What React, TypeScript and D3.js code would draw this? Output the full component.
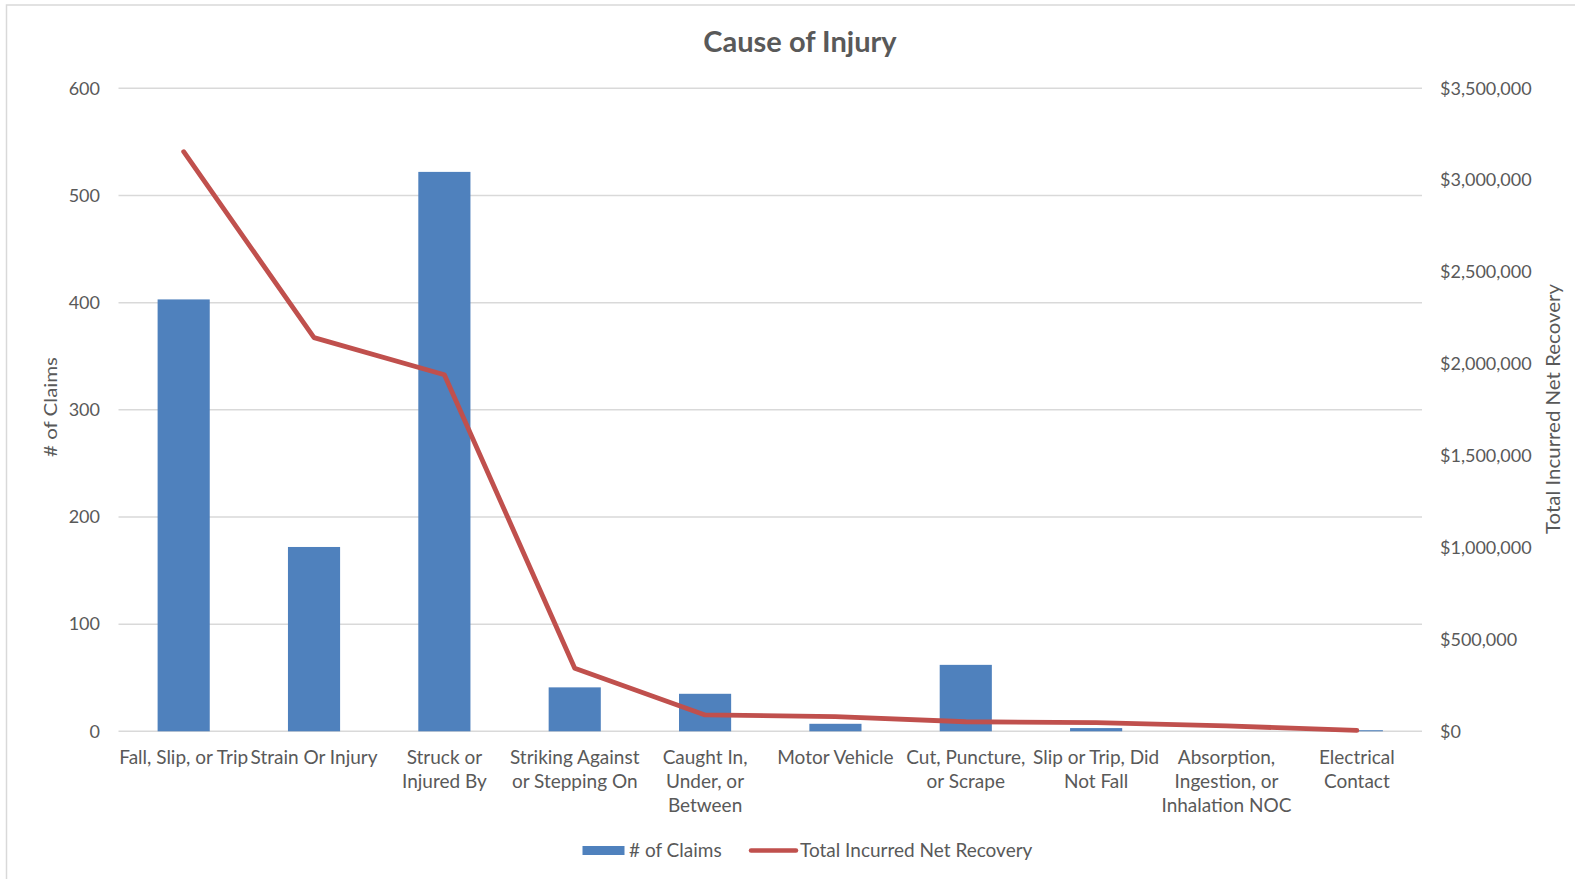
import React from "react";
import * as d3 from "d3";

const categories = [
  "Fall, Slip, or Trip",
  "Strain Or Injury",
  "Struck or Injured By",
  "Striking Against or Stepping On",
  "Caught In, Under, or Between",
  "Motor Vehicle",
  "Cut, Puncture, or Scrape",
  "Slip or Trip, Did Not Fall",
  "Absorption, Ingestion, or Inhalation NOC",
  "Electrical Contact",
];

const categoryLabelLines = [
  ["Fall, Slip, or Trip"],
  ["Strain Or Injury"],
  ["Struck or", "Injured By"],
  ["Striking Against", "or Stepping On"],
  ["Caught In,", "Under, or", "Between"],
  ["Motor Vehicle"],
  ["Cut, Puncture,", "or Scrape"],
  ["Slip or Trip, Did", "Not Fall"],
  ["Absorption,", "Ingestion, or", "Inhalation NOC"],
  ["Electrical", "Contact"],
];

const claims = [403, 172, 522, 41, 35, 7, 62, 3, 0, 1];
const netRecovery = [3155000, 2143000, 1941000, 343000, 89000, 80000, 52000, 47000, 29000, 5000];

const leftTicks = [0, 100, 200, 300, 400, 500, 600];
const rightTicks = [0, 500000, 1000000, 1500000, 2000000, 2500000, 3000000, 3500000];

const title = "Cause of Injury";
const leftTitle = "# of Claims";
const rightTitle = "Total Incurred Net Recovery";
const seriesNames = ["# of Claims", "Total Incurred Net Recovery"];

const W = 1575;
const H = 879;
const FONT = "Lato, 'Open Sans', sans-serif";
const TEXT = "#595959";
const GRID = "#D9D9D9";
const BAR = "#4F81BD";
const LINE = "#C0504D";

export default function App() {
  const plotLeft = 118.5;
  const plotRight = 1422;
  const plotTop = 88.3;
  const plotBottom = 731.3;

  const x = d3.scaleBand<string>().domain(categories).range([plotLeft, plotRight]).paddingInner(0.6).paddingOuter(0.3);
  const yL = d3.scaleLinear().domain([0, 600]).range([plotBottom, plotTop]);
  const yR = d3.scaleLinear().domain([0, 3500000]).range([plotBottom, plotTop]);
  const fmt = (v: number) => "$" + d3.format(",")(v);

  const line = d3
    .line<number>()
    .x((_, i) => (x(categories[i]) as number) + x.bandwidth() / 2)
    .y((d) => yR(d));

  return (
    <svg width={W} height={H} style={{ position: "absolute", left: 0, top: 0, background: "#fff" }} fontFamily={FONT}>
      <rect x={0} y={0} width={W} height={H} fill="#fff" />
      <rect x={6.5} y={5} width={W + 10} height={H + 10} fill="none" stroke={GRID} strokeWidth={1.5} />
      <text x={800} y={52} textAnchor="middle" fontSize={29} fontWeight="bold" fill={TEXT}>
        {title}
      </text>
      {leftTicks.map((t) => (
        <line key={"g" + t} x1={plotLeft} x2={plotRight} y1={yL(t)} y2={yL(t)} stroke={GRID} strokeWidth={1.5} />
      ))}
      {leftTicks.map((t) => (
        <text key={"l" + t} x={100} y={yL(t)} dy="0.35em" textAnchor="end" fontSize={18} fill={TEXT}>
          {t}
        </text>
      ))}
      {rightTicks.map((t) => (
        <text key={"r" + t} x={1440} y={yR(t)} dy="0.35em" textAnchor="start" fontSize={18} fill={TEXT}>
          {fmt(t)}
        </text>
      ))}
      {claims.map((v, i) => (
        <rect
          key={"b" + i}
          x={x(categories[i]) as number}
          y={yL(v)}
          width={x.bandwidth()}
          height={plotBottom - yL(v)}
          fill={BAR}
        />
      ))}
      <path d={line(netRecovery) as string} fill="none" stroke={LINE} strokeWidth={4.8} strokeLinejoin="round" strokeLinecap="round" />
      {categoryLabelLines.map((lines, i) => (
        <text key={"c" + i} textAnchor="middle" fontSize={19} fill={TEXT}>
          {lines.map((ln, j) => (
            <tspan key={j} x={(x(categories[i]) as number) + x.bandwidth() / 2} y={757 + j * 24} dy="0.35em">
              {ln}
            </tspan>
          ))}
        </text>
      ))}
      <text
        transform={`translate(51,407) rotate(-90)`}
        textAnchor="middle"
        dy="0.35em"
        fontSize={18}
        fill={TEXT}
        textLength={100}
        lengthAdjust="spacingAndGlyphs"
      >
        {leftTitle}
      </text>
      <text
        transform={`translate(1553,409) rotate(-90)`}
        textAnchor="middle"
        dy="0.35em"
        fontSize={20}
        fill={TEXT}
        textLength={250}
        lengthAdjust="spacingAndGlyphs"
      >
        {rightTitle}
      </text>
      <g>
        <rect x={582.5} y={846} width={42} height={9} fill={BAR} />
        <text x={629} y={850.5} dy="0.35em" fontSize={19} fill={TEXT}>
          {seriesNames[0]}
        </text>
        <line x1={751} x2={796} y1={850.5} y2={850.5} stroke={LINE} strokeWidth={4.5} strokeLinecap="round" />
        <text x={800} y={850.5} dy="0.35em" fontSize={19} fill={TEXT}>
          {seriesNames[1]}
        </text>
      </g>
    </svg>
  );
}
